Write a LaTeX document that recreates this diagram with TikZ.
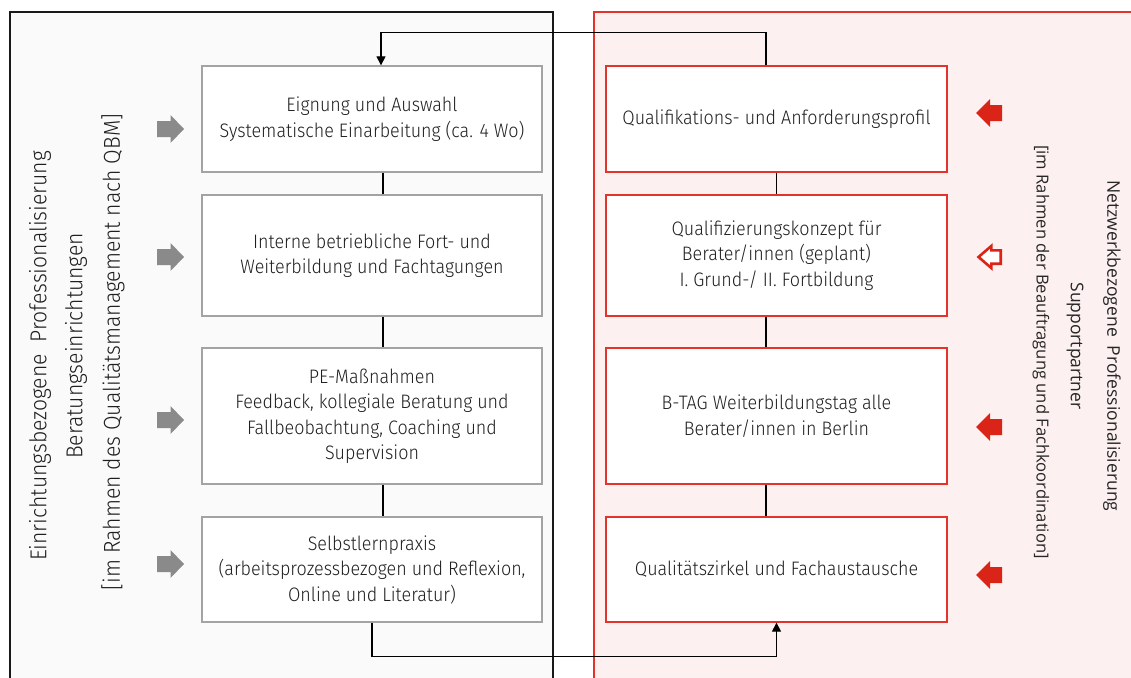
\documentclass[tikz,border=0pt]{standalone}
\usepackage{fontspec}
\setmainfont{Fira Sans Light}[FakeStretch=0.92]
\newfontfamily\opensans{Open Sans}
\usetikzlibrary{arrows.meta}
\definecolor{leftbg}{HTML}{FAFAFA}
\definecolor{rightbg}{HTML}{FCF1F0}
\definecolor{boxgray}{HTML}{A3A3A3}
\definecolor{boxred}{HTML}{E3342C}
\definecolor{arrgray}{HTML}{8A8A8A}
\definecolor{arrred}{HTML}{DA2418}
\begin{document}
\begin{tikzpicture}[x=1pt,y=-1pt,
  boxtext/.style={font=\fontsize{19.5}{25.5}\selectfont, align=center, text=black!88},
  lbox/.style={boxtext, draw=boxgray, line width=1.3pt, fill=white, minimum width=340pt, inner sep=0pt},
  rbox/.style={boxtext, draw=boxred, line width=1.3pt, fill=white, minimum width=341pt, inner sep=0pt},
  link/.style={line width=1.2pt, draw=black},
  arr/.style={link, -{Triangle[length=9pt,width=9pt]}},
  sideL/.style={font=\fontsize{23}{26}\selectfont, text=black!88, inner sep=0pt},
  sideR/.style={font=\opensans\fontsize{17.5}{22}\selectfont, text=black!85, inner sep=0pt},
  pics/grayarrow/.style={code={\fill[arrgray] (-13.5,-8) -- (0,-8) -- (0,-14) -- (13.5,0) -- (0,14) -- (0,8) -- (-13.5,8) -- cycle;}},
  pics/redarrow/.style={code={\fill[arrred] (13,-8) -- (1,-8) -- (1,-14) -- (-13,0) -- (1,14) -- (1,8) -- (13,8) -- cycle;}},
  pics/hollowarrow/.style={code={\draw[arrred, line width=2.6pt, fill=white, line join=miter] (11.7,-6.7) -- (2.3,-6.7) -- (2.3,-11) -- (-10.5,0) -- (2.3,11) -- (2.3,6.7) -- (11.7,6.7) -- cycle;}}
]
\useasboundingbox (0,0) rectangle (1131,677);
\clip (0,0) rectangle (1131,677);
% panels
\fill[leftbg] (10,12) rectangle (553,700);
\draw[black!90, line width=1.2pt] (10,700) -- (10,12) -- (553,12) -- (553,700);
\fill[rightbg] (594,12) rectangle (1150,700);
\draw[boxred, line width=1.2pt] (594,700) -- (594,12) -- (1150,12);

% left boxes
\node[lbox, minimum height=106pt] (l1) at (372,119) {Eignung und Auswahl\\Systematische Einarbeitung (ca. 4 Wo)};
\node[lbox, minimum height=121pt] (l2) at (372,255.5) {Interne betriebliche Fort- und\\Weiterbildung und Fachtagungen};
\node[lbox, minimum height=136pt] (l3) at (372,416) {PE-Maßnahmen\\Feedback, kollegiale Beratung und\\Fallbeobachtung, Coaching und\\Supervision};
\node[lbox, minimum height=105pt] (l4) at (372,569.5) {Selbstlernpraxis\\(arbeitsprozessbezogen und Reflexion,\\Online und Literatur)};

% right boxes
\node[rbox, minimum height=106pt] (r1) at (776.5,119) {Qualifikations- und Anforderungsprofil};
\node[rbox, minimum height=121pt] (r2) at (776.5,255.5) {Qualifizierungskonzept für\\Berater/innen (geplant)\\I. Grund-/ II. Fortbildung};
\node[rbox, minimum height=136pt] (r3) at (776.5,416) {B-TAG Weiterbildungstag alle\\Berater/innen in Berlin};
\node[rbox, minimum height=105pt] (r4) at (776.5,569.5) {Qualitätszirkel und Fachaustausche};

% vertical links
\draw[link] ([xshift=11pt]l1.south) -- ([xshift=11pt]l2.north);
\draw[link] ([xshift=11pt]l2.south) -- ([xshift=11pt]l3.north);
\draw[link] ([xshift=11pt]l3.south) -- ([xshift=11pt]l4.north);
\draw[link] (r1.south) -- (r2.north);
\draw[link] ([xshift=-10.5pt]r2.south) -- ([xshift=-10.5pt]r3.north);
\draw[link] ([xshift=-10.5pt]r3.south) -- ([xshift=-10.5pt]r4.north);

% loop connectors
\draw[arr] ([xshift=-10.5pt]r1.north) -- ++(0,-33) -| ([xshift=9pt]l1.north);
\draw[arr] (l4.south) -- ++(0,34) -| (r4.south);

% block arrows
\pic at (170.5,129) {grayarrow};
\pic at (170.5,257) {grayarrow};
\pic at (170.5,420) {grayarrow};
\pic at (170.5,564) {grayarrow};
\pic at (989,113) {redarrow};
\pic at (989,257) {hollowarrow};
\pic at (989,427) {redarrow};
\pic at (989,575) {redarrow};

% side labels left
\node[sideL, rotate=90] (lt1) at (40,356) {Einrichtungsbezogene\ \ Professionalisierung};
\node[sideL, rotate=90] (lt2) at (76,346) {Beratungseinrichtungen};
\node[sideL, rotate=90] (lt3) at (113,352) {[im Rahmen des Qualitätsmanagement nach QBM]};

% side labels right
\node[sideR, rotate=-90] (rt1) at (1112,346) {Netzwerkbezogene\ \ Professionalisierung};
\node[sideR, rotate=-90] (rt2) at (1075,346) {Supportpartner};
\node[sideR, rotate=-90, font=\opensans\fontsize{16.6}{22}\selectfont] (rt3) at (1041,352) {[im Rahmen der Beauftragung und Fachkoordination]};
\end{tikzpicture}
\end{document}
